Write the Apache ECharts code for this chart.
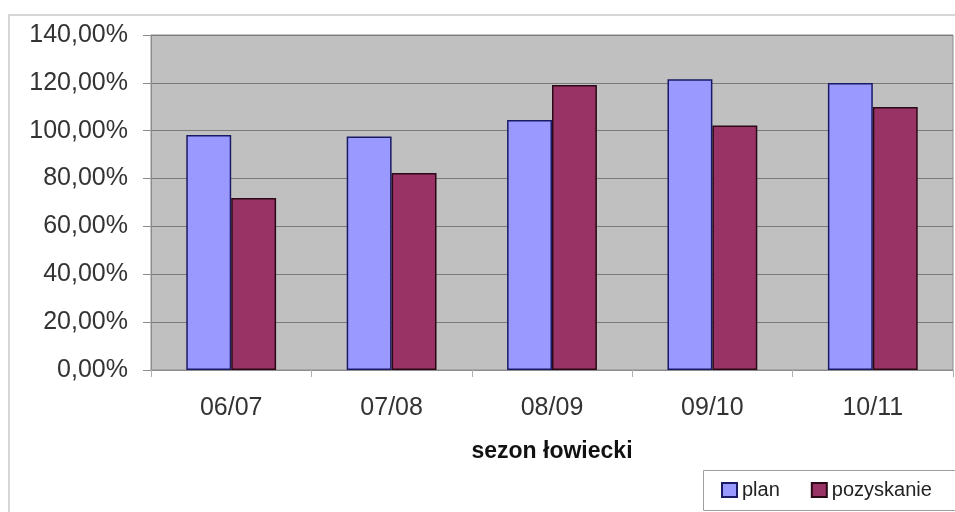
<!DOCTYPE html>
<html>
<head>
<meta charset="utf-8">
<script src="https://cdn.jsdelivr.net/npm/echarts@6/dist/echarts.min.js"></script>
<style>
  html, body { margin: 0; padding: 0; background: #ffffff; }
  #chart { width: 955px; height: 512px; }
</style>
</head>
<body>
<div id="chart"></div>
<script>
// Hunting seasons and realisation (%) of the plan vs. actual harvest
const seasons = ['06/07', '07/08', '08/09', '09/10', '10/11'];
const planValues = [98.2, 97.6, 104.5, 121.5, 119.9];
const harvestValues = [71.9, 82.3, 119.1, 102.2, 109.9];
const yTicks = { min: 0, max: 140, step: 20 };
const seriesNames = ['plan', 'pozyskanie'];
const axisTitle = 'sezon łowiecki';

const fontFamily = '"Liberation Sans", Arial, sans-serif';

const chart = echarts.init(document.getElementById('chart'), null, { renderer: 'canvas' });

const pct = v => v.toFixed(2).replace('.', ',') + '%';

chart.setOption({
  animation: false,
  backgroundColor: '#ffffff',
  textStyle: { fontFamily: fontFamily },
  graphic: [
    {
      // outer chart frame
      type: 'rect',
      shape: { x: 9, y: 15, width: 980, height: 520 },
      style: { fill: 'none', stroke: '#d6d6d6', lineWidth: 2 },
      silent: true,
      z: 0
    },
    {
      // legend frame
      type: 'rect',
      shape: { x: 703.5, y: 470.5, width: 260, height: 40 },
      style: { fill: '#ffffff', stroke: '#a0a0a0', lineWidth: 1 },
      silent: true,
      z: 1
    }
  ],
  grid: {
    left: 151,
    right: 2,
    top: 35,
    bottom: 142,
    show: true,
    backgroundColor: '#c0c0c0',
    borderColor: '#8c8c8c',
    borderWidth: 1
  },
  legend: {
    left: 721,
    top: 480,
    padding: 0,
    itemWidth: 15,
    itemHeight: 14,
    itemGap: 31,
    itemTextGap: 6,
    icon: 'rect',
    textStyle: { fontSize: 20, color: '#222222', fontFamily: fontFamily },
    data: seriesNames,
    z: 5
  },
  xAxis: {
    type: 'category',
    data: seasons,
    name: axisTitle,
    nameLocation: 'middle',
    nameGap: 70,
    nameTextStyle: { fontSize: 23, fontWeight: 'bold', color: '#111111', fontFamily: fontFamily },
    axisLine: { lineStyle: { color: '#8c8c8c', width: 1 } },
    axisTick: { show: true, length: 7, lineStyle: { color: '#b0b0b0' } },
    axisLabel: { fontSize: 25, color: '#333333', margin: 26 },
    splitLine: { show: false }
  },
  yAxis: {
    type: 'value',
    min: yTicks.min,
    max: yTicks.max,
    interval: yTicks.step,
    axisLine: { show: true, lineStyle: { color: '#8c8c8c', width: 1 } },
    axisTick: { show: true, length: 8, lineStyle: { color: '#8c8c8c' } },
    axisLabel: { fontSize: 25, color: '#333333', margin: 23, formatter: pct },
    splitLine: { show: true, lineStyle: { color: '#7a7a7a', width: 1 } }
  },
  series: [
    {
      name: seriesNames[0],
      type: 'bar',
      data: planValues,
      barWidth: '28%',
      barGap: '0%',
      itemStyle: { color: '#9999ff', borderColor: '#1a1a66', borderWidth: 1.5 }
    },
    {
      name: seriesNames[1],
      type: 'bar',
      data: harvestValues,
      barWidth: '28%',
      barGap: '0%',
      itemStyle: { color: '#993366', borderColor: '#2a0a14', borderWidth: 1.5 }
    }
  ]
});
</script>
</body>
</html>
